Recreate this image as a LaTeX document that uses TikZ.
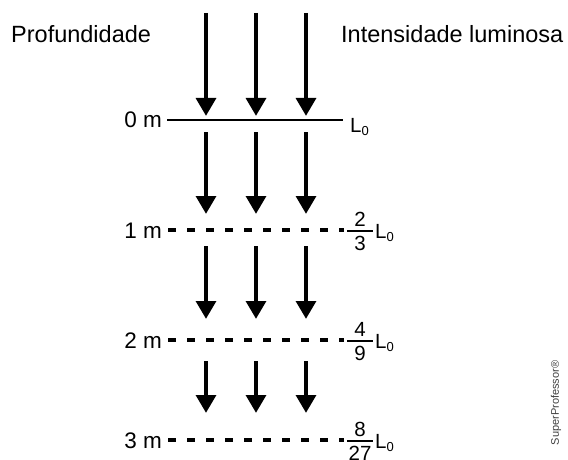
\documentclass[tikz,border=0pt]{standalone}
\usepackage{fontspec}
\setmainfont{Liberation Sans}
\usetikzlibrary{arrows.meta}
\tikzset{
  ray/.style={line width=4.6pt, -{Triangle[length=18pt,width=19.5pt]}},
  solidlevel/.style={line width=2.4pt},
  dlevel/.style={line width=3.3pt, dash pattern=on 7.5pt off 11.5pt},
  fracbar/.style={line width=1.6pt},
  title/.style={font=\fontsize{23.5}{26}\selectfont, inner sep=0pt},
  depth/.style={font=\fontsize{22.5}{25}\selectfont, inner sep=0pt, anchor=base east},
  num/.style={font=\fontsize{20.5}{22}\selectfont, inner sep=0pt},
}
\newcommand{\Lzero}{L\lower3.5pt\hbox{\fontsize{13}{14}\selectfont 0}}
\begin{document}
\begin{tikzpicture}[x=1pt,y=-1pt]
\useasboundingbox (0,0) rectangle (568,460);
\node[title,anchor=base west] (prof) at (11,43) {Profundidade};
\node[title,anchor=base west] (int) at (341,43) {Intensidade luminosa};
% surface level
\coordinate (l0a) at (167,120);
\coordinate (l0b) at (343,120);
\draw[solidlevel] (l0a) -- (l0b);
\node[depth] (d0) at (162,128) {0 m};
\node[num,anchor=base west] (L0) at (350,132) {\Lzero};
% deeper levels
\foreach \i/\y/\n/\m in {1/230/2/3, 2/340/4/9, 3/440/8/27}{
  \coordinate (l\i a) at (168,\y);
  \coordinate (l\i b) at (344,\y);
  \draw[dlevel] (l\i a) -- (l\i b);
  \node[depth] (d\i) at (162,\y+8) {\i\ m};
  \coordinate (fa\i) at (347,\y+1);
  \coordinate (fb\i) at (373,\y+1);
  \draw[fracbar] (fa\i) -- (fb\i);
  \node[num,anchor=south] (n\i) at (360,\y-3) {\n};
  \node[num,anchor=north] (m\i) at (360,\y+6) {\m};
  \node[num,anchor=base west] (L\i) at (375,\y+8) {\Lzero};
}
% light rays
\foreach \k/\ya/\yb in {1/13/116, 2/132/214, 3/246/319, 4/361/413}{
  \foreach \c/\x in {a/206,b/256,c/306}{
    \coordinate (r\k\c s) at (\x,\ya);
    \coordinate (r\k\c e) at (\x,\yb);
    \draw[ray] (r\k\c s) -- (r\k\c e);
  }
}
\node[rotate=90, font=\fontsize{11}{12}\selectfont, text=black!75, inner sep=0pt] (wm) at (556,403) {SuperProfessor®};
\end{tikzpicture}
\end{document}
